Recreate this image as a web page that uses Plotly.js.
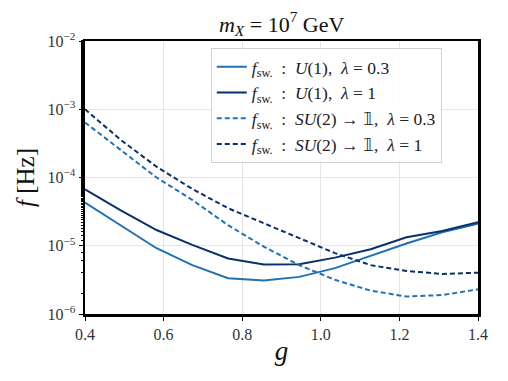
<!DOCTYPE html>
<html>
<head>
<meta charset="utf-8">
<script src="https://cdn.plot.ly/plotly-3.0.1.min.js"></script>
<style>html,body{margin:0;padding:0;background:#fff;}#chart{width:508px;height:381px;}</style>
</head>
<body>
<div id="chart"></div>
<script>
const gValues = [0.4, 0.491, 0.582, 0.673, 0.764, 0.855, 0.945, 1.036, 1.127, 1.218, 1.309, 1.4];
const u1Lam03 = [4.3e-5, 2.0e-5, 9.2e-6, 5.2e-6, 3.35e-6, 3.1e-6, 3.5e-6, 4.7e-6, 7.2e-6, 1.08e-5, 1.58e-5, 2.1e-5];
const u1Lam1 = [6.7e-5, 3.3e-5, 1.7e-5, 1.03e-5, 6.5e-6, 5.3e-6, 5.35e-6, 6.7e-6, 8.9e-6, 1.33e-5, 1.65e-5, 2.22e-5];
const su2Lam03 = [6.4e-4, 2.53e-4, 1.0e-4, 4.7e-5, 2.0e-5, 9.7e-6, 5.2e-6, 3.17e-6, 2.2e-6, 1.8e-6, 1.9e-6, 2.3e-6];
const su2Lam1 = [1.0e-3, 3.55e-4, 1.44e-4, 6.8e-5, 3.55e-5, 2.14e-5, 1.29e-5, 7.8e-6, 5.2e-6, 4.27e-6, 3.86e-6, 4.03e-6];
const ONE = "<span style='font-family:DejaVu Sans'>𝟙</span>";
const seriesNames = [
  "<i>f</i><sub>sw.</sub>\u2002:\u2002<i>U</i>(1),\u2002<i>λ</i> = 0.3",
  "<i>f</i><sub>sw.</sub>\u2002:\u2002<i>U</i>(1),\u2002<i>λ</i> = 1",
  "<i>f</i><sub>sw.</sub>\u2002:\u2002<i>SU</i>(2) → " + ONE + ",\u2002<i>λ</i> = 0.3",
  "<i>f</i><sub>sw.</sub>\u2002:\u2002<i>SU</i>(2) → " + ONE + ",\u2002<i>λ</i> = 1"
];
const yTickVals = [1e-6, 1e-5, 1e-4, 1e-3, 1e-2];
const yTickText = ["10<sup>−6</sup>", "10<sup>−5</sup>", "10<sup>−4</sup>", "10<sup>−3</sup>", "10<sup>−2</sup>"];
const xTickVals = [0.4, 0.6, 0.8, 1.0, 1.2, 1.4];
const xTickText = ["0.4", "0.6", "0.8", "1.0", "1.2", "1.4"];

const light = "#2171b5", dark = "#08306b";
const FONT = "'Liberation Serif', 'DejaVu Serif', serif";

const traces = [
  {x: gValues, y: u1Lam03, name: seriesNames[0], mode: "lines", line: {color: light, width: 2}},
  {x: gValues, y: u1Lam1, name: seriesNames[1], mode: "lines", line: {color: dark, width: 2}},
  {x: gValues, y: su2Lam03, name: seriesNames[2], mode: "lines", line: {color: light, width: 2, dash: "5px,3px"}},
  {x: gValues, y: su2Lam1, name: seriesNames[3], mode: "lines", line: {color: dark, width: 2, dash: "5px,3px"}}
];

const layout = {
  width: 508, height: 381,
  margin: {l: 85, r: 30, t: 41, b: 67},
  paper_bgcolor: "#fff", plot_bgcolor: "#fff",
  font: {family: FONT, size: 15, color: "#222"},
  title: {text: "<i>m</i><sub><i>X</i></sub> = 10<sup>7</sup> GeV", font: {family: FONT, size: 22, color: "#111"}, x: 0.5545, xanchor: "center", y: 0.937, yanchor: "middle"},
  xaxis: {
    range: [0.4, 1.4], tickvals: xTickVals, ticktext: xTickText,
    showgrid: true, gridcolor: "#e6e6e6", gridwidth: 1,
    showline: true, linecolor: "#000", linewidth: 2.5, mirror: true,
    ticks: "outside", ticklen: 4, tickcolor: "#000", zeroline: false,
    tickfont: {family: FONT, size: 16, color: "#333"},
    title: {text: "<i>g</i>", font: {family: FONT, size: 27, color: "#111"}, standoff: 0}
  },
  yaxis: {
    type: "log", range: [-6, -2], tickvals: yTickVals, ticktext: yTickText,
    showgrid: true, gridcolor: "#e6e6e6", gridwidth: 1,
    showline: true, linecolor: "#000", linewidth: 2.5, mirror: true,
    ticks: "outside", ticklen: 4, tickcolor: "#000", zeroline: false,
    tickfont: {family: FONT, size: 16, color: "#333"},
    minor: {ticks: "outside", ticklen: 2, tickcolor: "#000", showgrid: false},
    title: {text: "<i>f</i> [Hz]", font: {family: FONT, size: 25, color: "#111"}, standoff: 6}
  },
  legend: {
    x: 0.32, y: 0.975, xanchor: "left", yanchor: "top",
    bgcolor: "rgba(255,255,255,0.85)", bordercolor: "#d0d0d0", borderwidth: 1,
    font: {family: FONT, size: 17.5, color: "#222"},
    tracegroupgap: 0
  },
  showlegend: true
};

Plotly.newPlot("chart", traces, layout, {staticPlot: true, displayModeBar: false});
</script>
</body>
</html>
